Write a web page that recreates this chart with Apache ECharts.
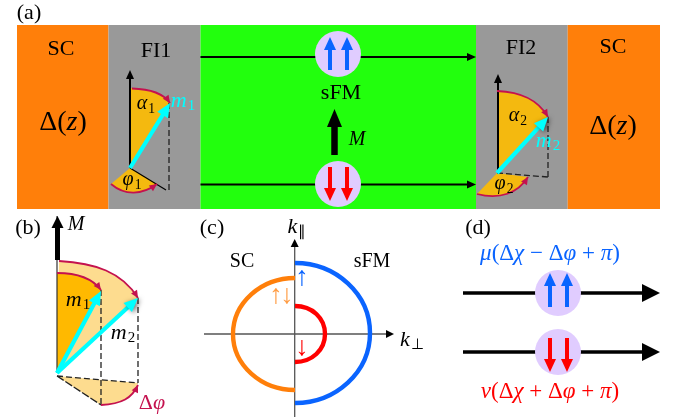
<!DOCTYPE html>
<html><head><meta charset="utf-8">
<script src="https://cdn.jsdelivr.net/npm/echarts@6/dist/echarts.min.js"></script>
<style>html,body{margin:0;padding:0;background:#fff}#c{width:676px;height:419px;filter:blur(0.35px)}</style>
</head><body><div id="c"></div>
<script>
const ORANGE='#ff7f0a',GRAY='#999999',GREEN='#22ff0d',BLUE='#0a64ff',RED='#ff0000',LILAC='#e0ccff',
      CYAN='#00ffff',CRIM='#c4124f',AMBER='#f4b90f',GOLD='#ffb900',PALE='#fddc8f',BLACK='#000000',DARK='#555555';

// [x0, y0, x1, y1, colour]
const regions=[
 [17,25,108.5,209,ORANGE],[108.5,25,200.5,209,GRAY],[200.5,25,476,209,GREEN],
 [476,25,567.7,209,GRAY],[567.7,25,660,209,ORANGE]];

// filled outlines: M/L/C commands in chart units, colour
const fills=[
 [['M',130,168,'L',130,88,'C',150,89,163,93,170,103,'Z'],AMBER],
 [['M',130,168,'L',111,184,'C',125,196,142,195,157,184,'Z'],AMBER],
 [['M',497,173,'L',497,91,'C',522,92,538,100,548,117,'Z'],AMBER],
 [['M',497,173,'L',477,194,'C',500,200,518,193,528,177,'Z'],AMBER],
 [['M',57,373,'L',59,261,'C',95,263,122,272,138,298,'Z'],PALE],
 [['M',57,373,'L',57,273,'C',78,273,92,278,101,290,'Z'],GOLD],
 [['M',57,376,'L',101,405,'C',122,404,132,398,138,383,'Z'],PALE]];

// strokes without heads: command list, colour, width, dash
const strokes=[
 [['M',169,103,'L',169,190],'#222222',1.3,[6,3]],
 [['M',130,168,'L',166,190],BLACK,1.2,null],
 [['M',548,117,'L',548,177],'#222222',1.3,[6,3]],
 [['M',497,173,'L',548,177],'#222222',1.3,[6,3]],
 [['M',57,216,'L',57,373],'#333333',1.2,null],
 [['M',101,290,'L',101,405],'#222222',1.3,[6,3]],
 [['M',138,298,'L',138,383],'#222222',1.3,[6,3]],
 [['M',57,376,'L',138,383],'#222222',1.3,[6,3]],
 [['M',57,376,'L',101,405],'#222222',1.3,[8,2]],
 [['M',204,334,'L',390,334],DARK,1.3,null],
 [['M',294.7,417,'L',294.7,244],DARK,1.3,null],
 [['M',295,278,'C',261,278,233,303,233,334,'C',233,365,261,390,295,390],ORANGE,4.4,null],
 [['M',295,263,'C',336,263,370,294,370,333,'C',370,372,336,403,295,403],BLUE,4.4,null],
 [['M',295,306,'C',312,306,325,318,325,334,'C',325,350,312,362,295,362],RED,4.4,null]];

// straight arrows: x0, y0, x1, y1, shaft, head length, head width, colour, shadow flag
const arrowsBack=[
 [200.5,57,476,57,2,9,8,BLACK],[200.5,184.5,476,184.5,2,9,8,BLACK],
 [463,293,660,293,3.3,18,18,BLACK],[463,352,660,352,3.3,18,18,BLACK],
 [130,168,130,70,2,9,8,BLACK],[498,173,498,74,2,9,8,BLACK],
 [57.5,260,57.5,216,5,12,12,BLACK],
 [294.7,244,294.7,239,1,8,8,BLACK],[388,334,394,334,1,8,8,BLACK]];
const arrowsFront=[
 [330,70,330,37,4,13,12,BLUE],[347,70,347,37,4,13,12,BLUE],
 [330,167,330,201,4,13,12,RED],[347,167,347,201,4,13,12,RED],
 [334.5,155,334.5,109,6.5,18,15,BLACK],
 [550,307,550,273,4,13,12,BLUE],[567,307,567,273,4,13,12,BLUE],
 [550,338,550,372,4,13,12,RED],[567,338,567,372,4,13,12,RED],
 [130,168,170,103,4.2,14,12.5,CYAN],[497,173,548,117,4.2,14,12.5,CYAN,1],
 [57,373,101,291,4.2,14,12.5,CYAN],[57,373,138,298,4.2,14,12.5,CYAN,1]];

// cx, cy, radius
const circles=[[338,54,23],[338,184,23],[558,293,23],[558,352,23]];

// curved arrows in crimson: start, control 1, control 2, end
const bends=[
 [132,88.5,150,89,163,93,170,103],[111,184,125,196,142,195,157,184],
 [497,91,522,92,538,100,548,117],[477,194,500,200,518,193,528,177],
 [59,261,95,263,122,272,138,298],[57,273,78,273,92,278,101,290],
 [101,405,122,404,132,398,138,385]];

// text, x, y, size, colour
const labels=[
 ['(a)',29,13,22,BLACK],['SC',61,49,22,BLACK],['FI1',156,51,22,BLACK],['{t|Δ(}{i|z}{t|)}',63,123,28,BLACK],
 ['sFM',341,93,22,BLACK],['{i|M}',357,140,20,BLACK],['FI2',521,48,22,BLACK],['SC',613,47,22,BLACK],
 ['{t|Δ(}{i|z}{t|)}',613,127,28,BLACK],
 ['{i|m}{s|1}',183,101,22,CYAN],['{i|α}{s|1}',146,104,20,BLACK],['{i|φ}{s|1}',132,180,20,BLACK],
 ['{i|m}{s|2}',548,141,22,CYAN],['{i|α}{s|2}',518,116,20,BLACK],['{i|φ}{s|2}',504,184,20,BLACK],
 ['(b)',28,228,22,BLACK],['{i|M}',76,225,20,BLACK],['{i|m}{s|1}',78,300,22,BLACK],['{i|m}{s|2}',123,333,22,BLACK],
 ['{t|Δ}{i|φ}',152,403,22,CRIM],
 ['(c)',212,228,22,BLACK],['{i|k}{s|∥}',297,227,22,BLACK],['{i|k}{s|⊥}',412,340,22,BLACK],
 ['SC',242,262,20,BLACK],['sFM',372,262,20,BLACK],
 ['↑',302,278,27,BLUE],['↑',276,296,27,'#ff9d45'],['↓',287,296,27,'#ff9d45'],['↓',302,348,27,RED],
 ['(d)',478,228,22,BLACK],
 ['{i|μ}{t|(Δ}{i|χ}{t| − Δ}{i|φ}{t| + }{i|π}{t|)}',550,254,23,BLUE],
 ['{i|ν}{t|(Δ}{i|χ}{t| + Δ}{i|φ}{t| + }{i|π}{t|)}',550,392,23,RED]];

function pathOf(cmds,api){
  let s='';
  for(let i=0;i<cmds.length;){
    const c=cmds[i++];
    if(c==='Z'){s+='Z';continue;}
    s+=c;
    const n=c==='C'?3:1;
    for(let k=0;k<n;k++){const p=api.coord([cmds[i],cmds[i+1]]);i+=2;s+=p[0]+' '+p[1]+' ';}
  }
  return s;
}
function headPoly(api,x0,y0,x1,y1,len,w,color,extra){
  const a=api.coord([x0,y0]),b=api.coord([x1,y1]);
  const d=Math.hypot(b[0]-a[0],b[1]-a[1])||1,ux=(b[0]-a[0])/d,uy=(b[1]-a[1])/d;
  const mx=b[0]-ux*len,my=b[1]-uy*len;
  return {type:'polygon',shape:{points:[b,[mx-uy*w/2,my+ux*w/2],[mx+uy*w/2,my-ux*w/2]]},style:{fill:color,...(extra||{})}};
}
function layer(items,anchor,draw){
  return {type:'custom',coordinateSystem:'cartesian2d',clip:false,silent:true,animation:false,
    data:items.map(anchor),renderItem:(p,api)=>draw(items[p.dataIndex],api)};
}
function arrowItem(a,api){
  const [x0,y0,x1,y1,sw,hl,hw,col,sh]=a;
  const p=api.coord([x0,y0]),q=api.coord([x1,y1]);
  const d=Math.hypot(q[0]-p[0],q[1]-p[1])||1;
  const e=[q[0]-(q[0]-p[0])/d*hl*0.9,q[1]-(q[1]-p[1])/d*hl*0.9];
  const extra=sh?{shadowBlur:5,shadowColor:'rgba(0,0,0,0.55)',shadowOffsetX:2,shadowOffsetY:1}:null;
  return {type:'group',children:[
    {type:'line',shape:{x1:p[0],y1:p[1],x2:e[0],y2:e[1]},style:{stroke:col,lineWidth:sw,fill:null}},
    headPoly(api,x0,y0,x1,y1,hl,hw,col,extra)]};
}
const serif='"Liberation Serif",serif';
const series=[
 layer(regions,r=>[r[0],r[1]],(r,api)=>{
   const a=api.coord([r[0],r[1]]),b=api.coord([r[2],r[3]]);
   return {type:'rect',shape:{x:a[0],y:a[1],width:b[0]-a[0],height:b[1]-a[1]},style:{fill:r[4]}};}),
 layer(fills,f=>[f[0][1],f[0][2]],(f,api)=>({type:'path',shape:{pathData:pathOf(f[0],api)},style:{fill:f[1]}})),
 layer(strokes,f=>[f[0][1],f[0][2]],(f,api)=>({type:'path',shape:{pathData:pathOf(f[0],api)},
   style:{fill:null,stroke:f[1],lineWidth:f[2],lineDash:f[3]||undefined}})),
 layer(arrowsBack,a=>[a[0],a[1]],arrowItem),
 layer(circles,c=>[c[0],c[1]],(c,api)=>{const p=api.coord([c[0],c[1]]);
   return {type:'circle',shape:{cx:p[0],cy:p[1],r:c[2]},style:{fill:LILAC}};}),
 layer(bends,b=>[b[0],b[1]],(b,api)=>({type:'group',children:[
   {type:'path',shape:{pathData:pathOf(['M',b[0],b[1],'C',b[2],b[3],b[4],b[5],b[6],b[7]],api)},style:{fill:null,stroke:CRIM,lineWidth:1.8}},
   headPoly(api,b[4],b[5],b[6],b[7],7.5,7,CRIM)]})),
 layer(arrowsFront,a=>[a[0],a[1]],arrowItem),
 layer(labels,l=>[l[1],l[2]],(l,api)=>{
   const p=api.coord([l[1],l[2]]),size=l[3],col=l[4];
   const base={fontFamily:serif,fontSize:size,fill:col};
   return {type:'text',x:p[0],y:p[1],style:{text:l[0],align:'center',verticalAlign:'middle',
     font:size+'px '+serif,fill:col,
     rich:{t:{...base,lineHeight:size+4,verticalAlign:'middle'},
           i:{...base,fontStyle:'italic',lineHeight:size+4,verticalAlign:'middle'},
           s:{...base,fontSize:size*0.68,lineHeight:size+4,verticalAlign:'bottom',padding:[0,0,0,1]}}}};
 })
];
const chart=echarts.init(document.getElementById('c'),null,{renderer:'canvas',width:676,height:419});
chart.setOption({
  animation:false,backgroundColor:'#ffffff',
  grid:{left:0,right:0,top:0,bottom:0,containLabel:false},
  xAxis:{type:'value',min:0,max:676,show:false},
  yAxis:{type:'value',min:0,max:419,inverse:true,show:false},
  tooltip:{show:false},legend:{show:false},
  series
});
</script></body></html>
